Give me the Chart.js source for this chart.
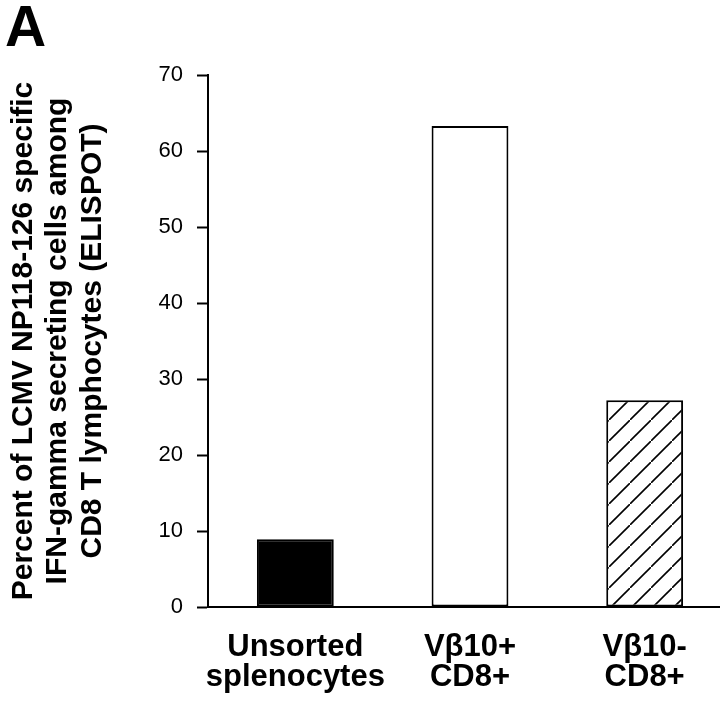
<!DOCTYPE html>
<html>
<head>
<meta charset="utf-8">
<script src="https://cdn.jsdelivr.net/npm/chart.js@4.4.0/dist/chart.umd.min.js"></script>
<style>
  html, body { margin: 0; padding: 0; background: #fff; overflow: hidden; }
  #wrap { position: relative; width: 740px; height: 703px; }
  #panel {
    position: absolute; left: 5px; top: -7px;
    font: bold 57px "Liberation Sans", Arial, sans-serif; color: #000;
  }
</style>
</head>
<body>
<div id="wrap">
  <canvas id="barChart" width="740" height="703"></canvas>
  <div id="panel">A</div>
</div>
<script>
// data
const categories = [
  ["Unsorted", "splenocytes"],
  ["V\u03b210+", "CD8+"],
  ["V\u03b210-", "CD8+"]
];
const percentValues = [8.9, 63.3, 27.2];
const yTicks = [0, 10, 20, 30, 40, 50, 60, 70];
const yTitle = [
  "Percent of LCMV NP118-126 specific",
  "IFN-gamma secreting cells among",
  "CD8 T lymphocytes (ELISPOT)"
];

const fontFamily = '"Liberation Sans", Arial, Helvetica, sans-serif';

// hatched fill for the third bar
function makeHatch() {
  const size = 21;
  const c = document.createElement("canvas");
  c.width = size;
  c.height = size;
  const g = c.getContext("2d");
  g.fillStyle = "#fff";
  g.fillRect(0, 0, size, size);
  g.strokeStyle = "#000";
  g.lineWidth = 1.6;
  g.beginPath();
  g.moveTo(-2, size + 2);
  g.lineTo(size + 2, -2);
  g.stroke();
  return g.createPattern(c, "repeat");
}

const ctx = document.getElementById("barChart").getContext("2d");
new Chart(ctx, {
  type: "bar",
  data: {
    labels: categories,
    datasets: [
      {
        data: percentValues,
        backgroundColor: ["#000000", "#ffffff", makeHatch()],
        borderColor: "#000000",
        borderWidth: 2,
        borderSkipped: false,
        barPercentage: 0.44,
        categoryPercentage: 1.0,
      },
    ],
  },
  options: {
    responsive: false,
    animation: false,
    layout: {
      padding: { top: 75, right: 8, bottom: 0, left: 0 },
    },
    plugins: {
      legend: { display: false },
      tooltip: { enabled: false },
    },
    scales: {
      x: {
        grid: { display: false },
        border: { color: "#000", width: 2 },
        ticks: {
          color: "#000",
          padding: 17,
          maxRotation: 0,
          autoSkip: false,
          font: { family: fontFamily, size: 31, weight: "bold", lineHeight: 0.97 },
        },
        afterFit: (scale) => {
          scale.height = 96;
        },
      },
      y: {
        min: 0,
        max: 70,
        afterBuildTicks: (scale) => {
          scale.ticks = yTicks.map((v) => ({ value: v }));
        },
        grid: {
          drawOnChartArea: false,
          drawTicks: true,
          tickLength: 11,
          tickColor: "#000",
          tickWidth: 2,
        },
        border: { color: "#000", width: 2 },
        ticks: {
          color: "#000",
          padding: 14,
          font: { family: fontFamily, size: 22 },
        },
        title: {
          display: true,
          text: yTitle,
          color: "#000",
          padding: { top: 6, bottom: 0 },
          font: { family: fontFamily, size: 30, weight: "bold", lineHeight: 1.15 },
        },
        afterFit: (scale) => {
          scale.width = 208;
        },
      },
    },
  },
});
</script>
</body>
</html>
